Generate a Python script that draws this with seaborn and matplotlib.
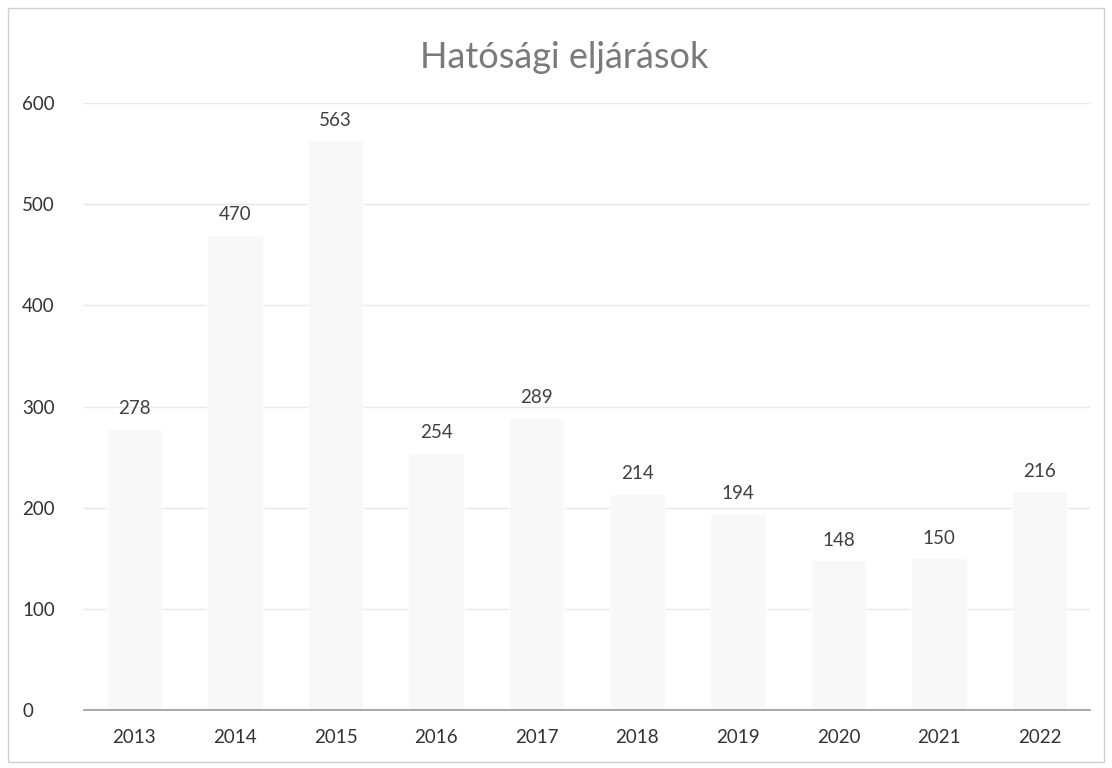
import matplotlib
matplotlib.use("Agg")
import matplotlib.pyplot as plt
import seaborn as sns
import pandas as pd
from matplotlib.patches import Rectangle

years = ["2013", "2014", "2015", "2016", "2017", "2018", "2019", "2020", "2021", "2022"]
values = [278, 470, 563, 254, 289, 214, 194, 148, 150, 216]
yticks = [0, 100, 200, 300, 400, 500, 600]
title = "Hatósági eljárások"

sns.set_theme(style="white")
plt.rcParams["font.family"] = ["Lato", "DejaVu Sans"]

df = pd.DataFrame({"year": years, "value": values})

fig = plt.figure(figsize=(11.12, 7.68), dpi=100)
ax = fig.add_axes([84 / 1112, 1 - 710 / 768, (1090 - 84) / 1112, (710 - 103) / 768])

for t in yticks[1:]:
    ax.axhline(t, color="#e8e8e8", lw=1, zorder=0)

sns.barplot(data=df, x="year", y="value", ax=ax, color="#f8f8f8", width=0.55,
            saturation=1, zorder=1)

for i, v in enumerate(values):
    ax.text(i, v + 20, str(v), ha="center", va="center", fontsize=13.5, color="#404040")

ax.set_ylim(0, 600)
ax.set_xlim(-0.5, len(years) - 0.5)
ax.set_yticks(yticks)
ax.set_yticklabels([str(t) for t in yticks])
ax.set_xlabel("")
ax.set_ylabel("")
for s in ["top", "right", "left"]:
    ax.spines[s].set_visible(False)
ax.spines["bottom"].set_color("#9a9a9a")
ax.spines["bottom"].set_linewidth(1.2)
ax.tick_params(axis="x", length=0, labelsize=13.5, labelcolor="#333333", pad=14)
ax.tick_params(axis="y", length=0, labelsize=13.5, labelcolor="#333333", pad=44.6)
for lab in ax.get_yticklabels():
    lab.set_horizontalalignment("left")

fig.text(564 / 1112, 1 - 58 / 768, title, ha="center", va="center", fontsize=26, color="#7a7a7a")

fig.patches.append(Rectangle((8 / 1112, 6 / 768), 1 - 16 / 1112, 1 - 14 / 768,
                             transform=fig.transFigure, fill=False, edgecolor="#d0d0d0", lw=1))

fig.savefig("out.png", dpi=100)
